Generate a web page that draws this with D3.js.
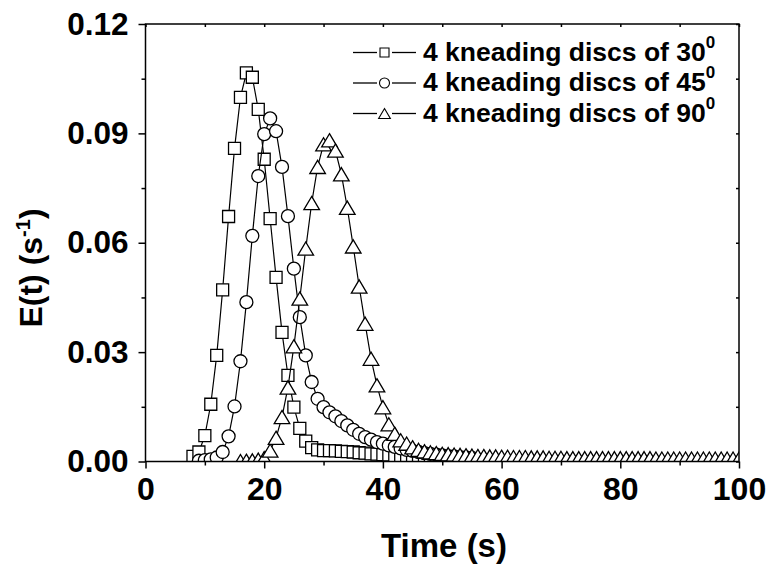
<!DOCTYPE html>
<html>
<head>
<meta charset="utf-8">
<script src="https://cdn.jsdelivr.net/npm/d3@7"></script>
<style>
  html, body { margin: 0; padding: 0; background: #fff; }
  svg { display: block; }
  text { font-family: "Liberation Sans", Arial, sans-serif; font-weight: bold; fill: #000; }
</style>
</head>
<body>
<svg id="chart" width="770" height="572"></svg>
<script>
// ---------------- data ----------------
const seriesNames = ["4 kneading discs of 30", "4 kneading discs of 45", "4 kneading discs of 90"];
const seriesSymbols = ["square", "circle", "triangle"];

const time30 = d3.range(8, 49);   // 8..48 s
const values30 = [
  0.0014, 0.0026, 0.0071, 0.0157, 0.0291, 0.0471, 0.0672, 0.0859, 0.0999, 0.1066,
  0.1054, 0.0966, 0.0829, 0.0666, 0.0505, 0.0354, 0.0236, 0.0149, 0.0091, 0.0056,
  0.0038, 0.0032, 0.0030, 0.0030, 0.0029, 0.0028, 0.0027, 0.0026, 0.0024, 0.0023,
  0.0021, 0.0020, 0.0019, 0.0018, 0.0016, 0.0015, 0.0014, 0.0013, 0.0012, 0.0010,
  0.0009
];

const time45 = d3.range(9, 56);   // 9..55 s
const values45 = [
  0.0002, 0.0004, 0.0006, 0.0011, 0.0026, 0.0069, 0.0151, 0.0275, 0.0437, 0.0619,
  0.0783, 0.0898, 0.0941, 0.0906, 0.0808, 0.0673, 0.0529, 0.0396, 0.0291, 0.0218,
  0.0172, 0.0149, 0.0135, 0.0124, 0.0111, 0.0099, 0.0087, 0.0076, 0.0067, 0.0060,
  0.0053, 0.0049, 0.0044, 0.0040, 0.0036, 0.0032, 0.0029, 0.0026, 0.0023, 0.0021,
  0.0019, 0.0017, 0.0015, 0.0014, 0.0012, 0.0011, 0.0010
];

const time90 = d3.range(16, 101); // 16..100 s
const values90 = [
  0.0001, 0.0002, 0.0003, 0.0005, 0.0009, 0.0030, 0.0065, 0.0122, 0.0203, 0.0316,
  0.0447, 0.0584, 0.0709, 0.0808, 0.0870, 0.0881, 0.0853, 0.0788, 0.0696, 0.0590,
  0.0480, 0.0378, 0.0282, 0.0209, 0.0149, 0.0102, 0.0076, 0.0058, 0.0049, 0.0039,
  0.0032, 0.0028, 0.0025, 0.0023, 0.0021, 0.0020, 0.0019, 0.0018, 0.0017, 0.0016,
  0.0015, 0.0015, 0.0014, 0.0014, 0.0013, 0.0013, 0.0012, 0.0012, 0.0012, 0.0011,
  0.0011, 0.0011, 0.0010, 0.0010, 0.0010, 0.0009, 0.0009, 0.0009, 0.0009, 0.0009,
  0.0009, 0.0009, 0.0009, 0.0009, 0.0009, 0.0009, 0.0009, 0.0009, 0.0009, 0.0009,
  0.0008, 0.0008, 0.0008, 0.0008, 0.0008, 0.0008, 0.0008, 0.0008, 0.0008, 0.0008,
  0.0008, 0.0008, 0.0008, 0.0008, 0.0008
];

const xMajorTicks = [0, 20, 40, 60, 80, 100];
const xMinorTicks = [10, 30, 50, 70, 90];
const yMajorTicks = [0.00, 0.03, 0.06, 0.09, 0.12];
const yMinorTicks = [0.015, 0.045, 0.075, 0.105];

// ---------------- layout ----------------
const svg = d3.select("#chart");
const pL = 145.5, pR = 739, pT = 24, pB = 461.5;

const x = d3.scaleLinear().domain([0, 100]).range([pL, pR]);
const y = d3.scaleLinear().domain([0, 0.12]).range([pB, pT]);

svg.append("defs").append("clipPath").attr("id", "plotclip")
  .append("rect").attr("x", pL).attr("y", pT).attr("width", pR - pL).attr("height", pB - pT);

// ---------------- series ----------------
const series = [
  { name: seriesNames[0], sym: seriesSymbols[0], data: time30.map((t, i) => [t, values30[i]]) },
  { name: seriesNames[1], sym: seriesSymbols[1], data: time45.map((t, i) => [t, values45[i]]) },
  { name: seriesNames[2], sym: seriesSymbols[2], data: time90.map((t, i) => [t, values90[i]]) }
];

function symbolPath(sym, s) {
  if (sym === "square") {
    const h = s / 2;
    return `M${-h},${-h}H${h}V${h}H${-h}Z`;
  } else if (sym === "circle") {
    const r = s / 2 + 0.5;
    return `M${r},0A${r},${r} 0 1,1 ${-r},0A${r},${r} 0 1,1 ${r},0Z`;
  } else {
    const w = s * 1.3, h = s * 1.1;
    return `M0,${-h / 2}L${w / 2},${h / 2}L${-w / 2},${h / 2}Z`;
  }
}

const plot = svg.append("g").attr("clip-path", "url(#plotclip)");
const line = d3.line().x(d => x(d[0])).y(d => y(d[1]));

series.forEach(sr => {
  const g = plot.append("g");
  g.append("path").datum(sr.data)
    .attr("d", line)
    .attr("fill", "none").attr("stroke", "#000").attr("stroke-width", 1.2);
  g.selectAll("path.m").data(sr.data).enter().append("path")
    .attr("class", "m")
    .attr("transform", d => `translate(${x(d[0])},${y(d[1])})`)
    .attr("d", symbolPath(sr.sym, 12))
    .attr("fill", "#fff").attr("stroke", "#000").attr("stroke-width", 1.3);
});

// ---------------- axes ----------------
const axStroke = 1.5;
function styleAxis(g) {
  g.select(".domain").remove();
  g.selectAll(".tick line").attr("stroke", "#000").attr("stroke-width", axStroke);
}

svg.append("rect").attr("x", pL).attr("y", pT).attr("width", pR - pL).attr("height", pB - pT)
  .attr("fill", "none").attr("stroke", "#000").attr("stroke-width", axStroke);

svg.append("g").attr("transform", `translate(0,${pB})`)
  .call(d3.axisBottom(x).tickValues(xMajorTicks).tickSize(7).tickPadding(9).tickFormat(d3.format("d")))
  .call(styleAxis)
  .call(g => g.selectAll("text").attr("font-size", 32).attr("font-family", null));
svg.append("g").attr("transform", `translate(0,${pB})`)
  .call(d3.axisBottom(x).tickValues(xMinorTicks).tickSize(4).tickFormat(""))
  .call(styleAxis);
svg.append("g").attr("transform", `translate(0,${pT})`)
  .call(d3.axisBottom(x).tickValues(xMajorTicks.concat(xMinorTicks)).tickSize(3).tickFormat(""))
  .call(styleAxis);
svg.append("g").attr("transform", `translate(${pL},0)`)
  .call(d3.axisLeft(y).tickValues(yMajorTicks).tickSize(7).tickPadding(10).tickFormat(d3.format(".2f")))
  .call(styleAxis)
  .call(g => g.selectAll("text").attr("font-size", 31.5).attr("font-family", null));
svg.append("g").attr("transform", `translate(${pL},0)`)
  .call(d3.axisLeft(y).tickValues(yMinorTicks).tickSize(4).tickFormat(""))
  .call(styleAxis);
svg.append("g").attr("transform", `translate(${pR},0)`)
  .call(d3.axisLeft(y).tickValues(yMajorTicks.concat(yMinorTicks)).tickSize(3).tickFormat(""))
  .call(styleAxis);

// ---------------- axis titles ----------------
svg.append("text")
  .attr("x", 444).attr("y", 557)
  .attr("text-anchor", "middle").attr("font-size", 33)
  .text("Time (s)");

const yt = svg.append("text")
  .attr("transform", "translate(42,268) rotate(-90)")
  .attr("text-anchor", "middle").attr("font-size", 32);
yt.append("tspan").text("E(t) (s");
yt.append("tspan").attr("font-size", 20).attr("dy", -12).text("-1");
yt.append("tspan").attr("dy", 12).text(")");

// ---------------- legend ----------------
const legX = 353, legRows = [52.5, 83, 113.5];
series.forEach((sr, i) => {
  const cy = legRows[i];
  const g = svg.append("g");
  g.append("line").attr("x1", legX).attr("x2", legX + 24).attr("y1", cy).attr("y2", cy)
    .attr("stroke", "#000").attr("stroke-width", 1.3);
  g.append("line").attr("x1", legX + 39).attr("x2", legX + 63).attr("y1", cy).attr("y2", cy)
    .attr("stroke", "#000").attr("stroke-width", 1.3);
  g.append("path").attr("transform", `translate(${legX + 31.5},${cy})`)
    .attr("d", symbolPath(sr.sym, 9))
    .attr("fill", "#fff").attr("stroke", "#000").attr("stroke-width", 1.1);
  const t = g.append("text").attr("x", 423).attr("y", cy + 8).attr("font-size", 26.5);
  t.append("tspan").text(sr.name);
  t.append("tspan").attr("font-size", 17).attr("dy", -13).text("0");
});
</script>
</body>
</html>
